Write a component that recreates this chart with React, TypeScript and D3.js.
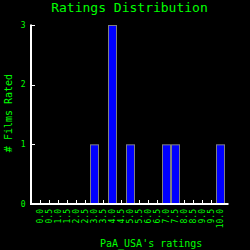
import React from 'react';
import * as d3 from 'd3';

const ratings = ['0.0', '0.5', '1.0', '1.5', '2.0', '2.5', '3.0', '3.5', '4.0', '4.5', '5.0',
  '5.5', '6.0', '6.5', '7.0', '7.5', '8.0', '8.5', '9.0', '9.5', '10.0'];
const filmCounts = [0, 0, 0, 0, 0, 0, 1, 0, 3, 0, 1, 0, 0, 0, 1, 1, 0, 0, 0, 0, 1];
const yTicks = [0, 1, 2, 3];

const title = 'Ratings Distribution';
const xTitle = "PaA_USA's ratings";
const yTitle = '# Films Rated';

const green = '#00ff00';
const font = '"DejaVu Sans Mono", monospace';

const App = () => {
  const width = 250;
  const height = 250;
  const left = 31;
  const right = 228.5;
  const bottom = 204;
  const top = 25;

  const x = d3.scalePoint<string>()
    .domain(ratings)
    .range([left - 0.5, right])
    .padding(1);

  const y = d3.scaleLinear()
    .domain([0, 3])
    .range([bottom, top]);

  const barW = 8;

  return (
    <div style={{ position: 'fixed', left: 0, top: 0 }}>
      <svg width={width} height={height} style={{ display: 'block', background: '#000' }}>
        <rect width={width} height={height} fill="#000" />
        <text x={129.5} y={12} fill={green} fontFamily={font} fontSize={13} textAnchor="middle">
          {title}
        </text>

        {/* bars */}
        {filmCounts.map((c, i) => c > 0 && (
          <rect key={ratings[i]}
            x={Math.round(x(ratings[i])!) - barW / 2 + 0.5}
            y={y(c) + 0.5}
            width={barW}
            height={bottom - y(c) - 0.5}
            fill="#0000ff"
            stroke="#808080"
            strokeWidth={1} />
        ))}

        {/* x ticks, drawn under bars is not needed since bars cover them */}
        {ratings.map((r, i) => filmCounts[i] === 0 && (
          <line key={'t' + r} x1={Math.round(x(r)!) + 0.5} x2={Math.round(x(r)!) + 0.5}
            y1={bottom} y2={bottom - 4} stroke="#fff" strokeWidth={1} />
        ))}
        {ratings.map(r => (
          <text key={'l' + r}
            transform={`translate(${Math.round(x(r)!) + 0.5},209) rotate(-90)`}
            dy="0.35em" fill={green} fontFamily={font} fontSize={8} textAnchor="end">
            {r}
          </text>
        ))}

        {/* axes */}
        <line x1={left} x2={left} y1={top - 0.5} y2={bottom + 1} stroke="#fff" strokeWidth={2} />
        <line x1={left - 1} x2={right} y1={bottom} y2={bottom} stroke="#fff" strokeWidth={2} />
        {yTicks.filter(t => t > 0).map(t => (
          <line key={'y' + t} x1={left} x2={left + 4} y1={Math.round(y(t)) + 0.5} y2={Math.round(y(t)) + 0.5}
            stroke="#fff" strokeWidth={1} />
        ))}
        {yTicks.map(t => (
          <text key={'yl' + t} x={25.5} y={y(t)} dy="0.35em" fill={green}
            fontFamily={font} fontSize={8} textAnchor="end">
            {t}
          </text>
        ))}

        <text transform="translate(12,113) rotate(-90)" fill={green} fontFamily={font}
          fontSize={10} textAnchor="middle">
          {yTitle}
        </text>
        <text x={100} y={247} fill={green} fontFamily={font} fontSize={10}>
          {xTitle}
        </text>
      </svg>
    </div>
  );
};

export default App;
